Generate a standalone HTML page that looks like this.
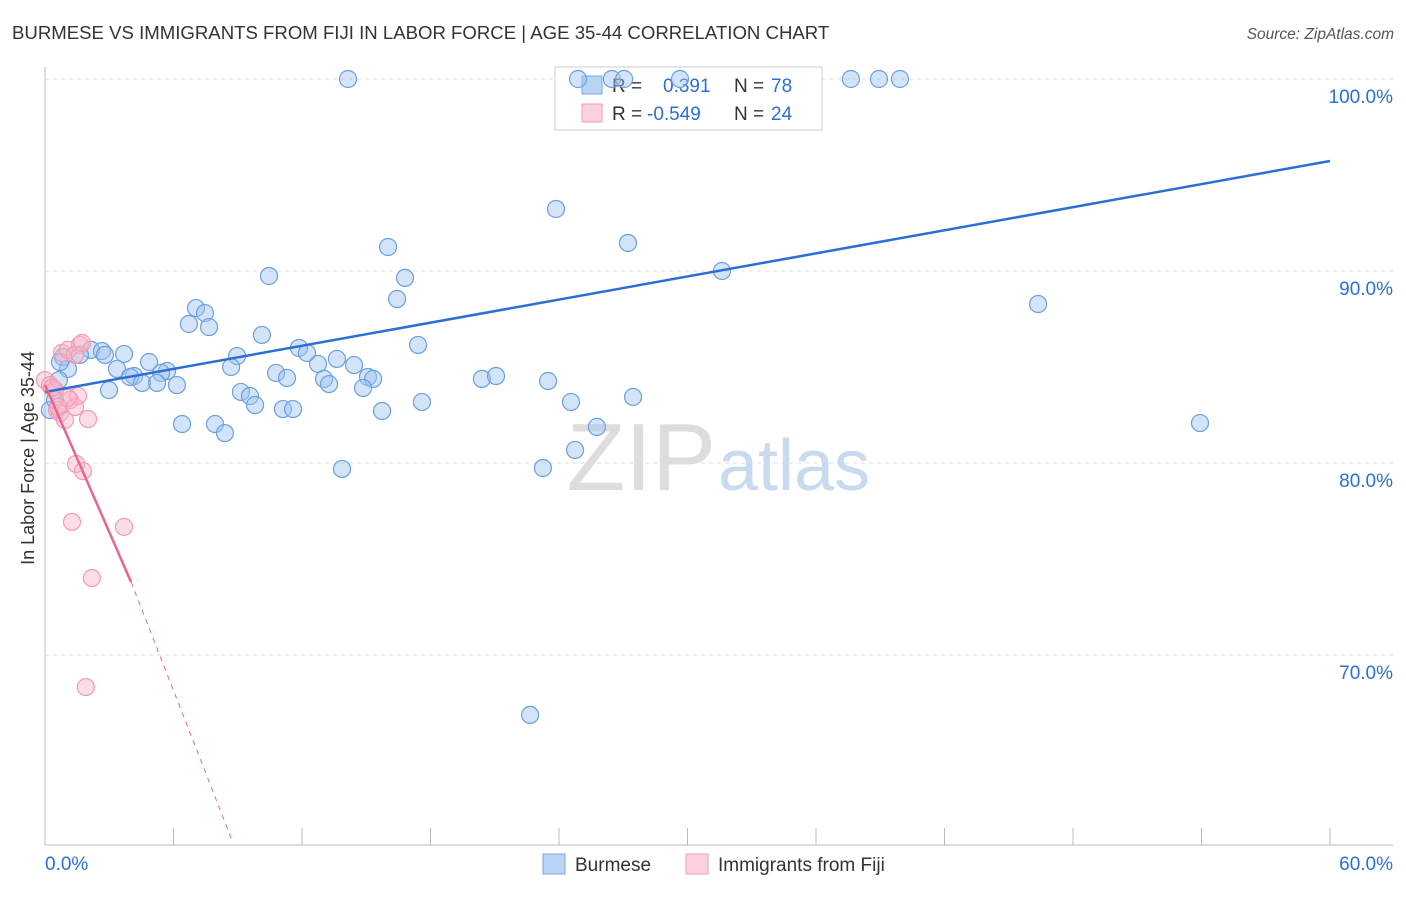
<!DOCTYPE html>
<html><head><meta charset="utf-8"><style>
body{margin:0;background:#fff;font-family:"Liberation Sans",sans-serif}
svg text{font-family:"Liberation Sans",sans-serif}
</style></head><body>
<svg id="chart" width="1406" height="892">
<text x="12" y="39" font-size="18.6" fill="#333">BURMESE VS IMMIGRANTS FROM FIJI IN LABOR FORCE | AGE 35-44 CORRELATION CHART</text>
<text x="1394" y="39" font-size="15.5" fill="#555" font-style="italic" text-anchor="end">Source: ZipAtlas.com</text>
<g id="grid"></g>
<text x="716" y="490" font-size="96" fill="#ddd" text-anchor="end" font-family="Liberation Serif">ZIP</text>
<text x="718" y="490" font-size="72" fill="#c8daf0">atlas</text>
<text transform="translate(34,458) rotate(-90)" font-size="18" fill="#333" text-anchor="middle">In Labor Force | Age 35-44</text>
<g>
<rect x="555" y="67" width="267" height="63" fill="#fff" stroke="#ccc"/>
<rect x="582" y="76" width="20" height="18" fill="#b8d4f5" stroke="#7aa7e0"/>
<text x="612" y="92" font-size="19" fill="#333">R = </text><text x="663" y="92" font-size="19" fill="#2a6fd6">0.391</text>
<text x="734" y="92" font-size="19" fill="#333">N = </text><text x="771" y="92" font-size="19" fill="#2a6fd6">78</text>
<rect x="582" y="104" width="20" height="18" fill="#fcd0dc" stroke="#f09ab3"/>
<text x="612" y="120" font-size="19" fill="#333">R = </text><text x="647" y="120" font-size="19" fill="#2a6fd6">-0.549</text>
<text x="734" y="120" font-size="19" fill="#333">N = </text><text x="771" y="120" font-size="19" fill="#2a6fd6">24</text>
</g>
<g id="pts"></g>
<g id="lines"></g>
<g>
<rect x="543" y="854" width="22" height="20" fill="#b8d4f5" stroke="#7aa7e0"/>
<text x="575" y="871" font-size="19" fill="#333">Burmese</text>
<rect x="686" y="854" width="22" height="20" fill="#fcd0dc" stroke="#f09ab3"/>
<text x="718" y="871" font-size="19" fill="#333">Immigrants from Fiji</text>
</g>
</svg>
<script>
const yTicks=[100,90,80,70];
const xTickLabels=["0.0%","60.0%"];
const blueX=[14.15,24.89,26.47,27.04,29.65,37.63,38.94,39.92,23.86,27.22,16.02,10.46,16.81,31.61,16.44,46.37,7.05,7.47,6.72,7.66,10.13,17.42,11.86,12.23,2.15,2.66,3.69,1.63,0.84,8.97,4.86,13.63,12.75,14.43,8.69,3.36,1.07,5.70,5.42,10.79,4.16,3.97,11.30,15.08,15.32,13.03,13.26,20.40,21.06,23.49,0.65,4.53,5.23,6.16,2.99,14.85,9.15,9.57,27.46,24.56,17.60,9.81,11.11,11.58,15.74,6.40,7.94,8.40,25.77,53.93,24.75,13.87,23.25,22.65,0.23,0.47,2.80,0.70];
const blueY=[100,100,100,100,100,100,100,100,93.23,91.46,91.25,89.74,89.64,90.0,88.54,88.28,88.07,87.81,87.24,87.08,86.67,86.15,85.99,85.73,85.89,85.83,85.68,85.63,85.52,85.57,85.26,85.42,85.16,85.10,85.0,84.90,84.90,84.79,84.69,84.69,84.53,84.48,84.43,84.48,84.38,84.38,84.11,84.38,84.53,84.27,84.32,84.17,84.17,84.06,83.80,83.91,83.70,83.49,83.44,83.18,83.18,83.02,82.81,82.81,82.71,82.03,82.03,81.56,81.88,82.08,80.68,79.69,79.74,66.88,82.76,83.28,85.63,85.26];
const pinkX=[0,0.23,0.47,0.79,1.07,1.63,1.40,1.73,0.56,0.70,0.93,1.17,1.40,1.54,2.01,1.07,1.45,1.77,1.26,3.69,2.19,1.91,0.33,0.61];
const pinkY=[84.32,84.06,83.80,85.73,85.89,86.15,85.63,86.25,82.76,82.60,82.24,83.28,82.92,83.49,82.29,83.39,79.95,79.58,76.93,76.67,74.01,68.33,83.91,82.92];
const blueLine=[[0,83.70],[60,95.73]];
const pinkLine=[[0,84.06],[4.02,73.80]];
const pinkDash=[[4.02,73.80],[8.73,60.36]];
const X=v=>45+v/60*1285, Y=v=>79+(100-v)*19.2;
const NS="http://www.w3.org/2000/svg";
function mk(t,a,p){const e=document.createElementNS(NS,t);for(const k in a)e.setAttribute(k,a[k]);p.appendChild(e);return e;}
const grid=document.getElementById('grid');
yTicks.forEach(t=>{
 const l=mk('line',{x1:45,x2:1393,y1:Y(t),y2:Y(t),stroke:'#ddd','stroke-dasharray':'4,4'},grid);
 
 
 const tx=mk('text',{x:1393,y:Y(t)+24,'font-size':19,fill:'#2a6fd6','text-anchor':'end'},grid);
 tx.textContent=t.toFixed(1)+'%';
 
 
});
const ax=mk('line',{x1:45,x2:45,y1:67,y2:845,stroke:'#bbb'},grid);


const bx=mk('line',{x1:45,x2:1393,y1:845,y2:845,stroke:'#bbb'},grid);


for(let i=0;i<=10;i++){const v=i*6;const t=mk('line',{x1:X(v),x2:X(v),y1:828,y2:845,stroke:'#bbb'},grid);
 
 }
xTickLabels.forEach((s,i)=>{const t=mk('text',{x:i?1393:45,y:870,'font-size':19,fill:'#2a6fd6','text-anchor':i?'end':'start'},grid);t.textContent=s;
 
 });
const pts=document.getElementById('pts');
blueX.forEach((x,i)=>{const c=mk('circle',{cx:X(x),cy:Y(blueY[i]),r:8.5,fill:'rgba(160,196,240,0.45)',stroke:'#6a9fe0','stroke-width':1.2},pts);
 
 });
pinkX.forEach((x,i)=>{const c=mk('circle',{cx:X(x),cy:Y(pinkY[i]),r:8.5,fill:'rgba(248,180,200,0.45)',stroke:'#f09ab3','stroke-width':1.2},pts);
 
 });
const lines=document.getElementById('lines');
const bl=mk('line',{x1:X(blueLine[0][0]),y1:Y(blueLine[0][1]),x2:X(blueLine[1][0]),y2:Y(blueLine[1][1]),stroke:'#2a6fd6','stroke-width':2.5},lines);


const pl=mk('line',{x1:X(pinkLine[0][0]),y1:Y(pinkLine[0][1]),x2:X(pinkLine[1][0]),y2:Y(pinkLine[1][1]),stroke:'#e8658f','stroke-width':2.5},lines);


const pd=mk('line',{x1:X(pinkDash[0][0]),y1:Y(pinkDash[0][1]),x2:X(pinkDash[1][0]),y2:Y(pinkDash[1][1]),stroke:'#e8658f','stroke-width':1,'stroke-dasharray':'5,5'},lines);


</script>
</body></html>
